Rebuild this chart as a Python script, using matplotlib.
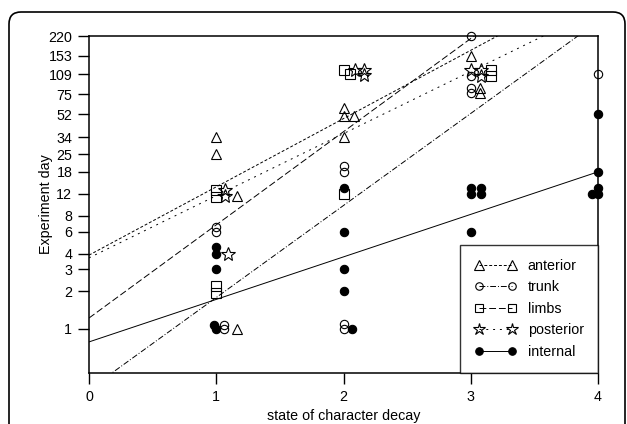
import numpy as np
import matplotlib
matplotlib.use("Agg")
import matplotlib.pyplot as plt
from matplotlib.patches import FancyBboxPatch
from matplotlib.transforms import IdentityTransform

plt.rcParams["font.family"] = ["Liberation Sans", "DejaVu Sans"]

# y ticks (experiment day, log scale)
day_ticks = [1, 2, 3, 4, 6, 8, 12, 18, 25, 34, 52, 75, 109, 153, 220]

# points per body region: decay state (with the small side offsets of the original) and day
ant_x = [1, 1, 1.16, 1.16, 2, 2, 2.08, 2, 3, 3.07, 3.07]
ant_y = [34, 25, 11.5, 1, 58, 50, 50, 34, 153, 85, 77]

trunk_x = [1, 1, 1.06, 1.06, 2, 2, 2, 2, 3, 3, 3, 3, 4]
trunk_y = [6.5, 6, 1.07, 1, 20, 18, 1.1, 1, 220, 105, 85, 77, 109]

limb_x = [1, 1, 1, 1, 2, 2.05, 2, 3.16, 3.16]
limb_y = [13, 11.3, 2.2, 1.95, 118, 109, 12, 118, 106]

post_x = [1.07, 1.07, 1.09, 2.09, 2.16, 2.16, 3, 3.08, 3.08]
post_y = [13, 11.5, 4, 118, 118, 107, 118, 118, 106]

int_x = [1, 1, 1, 0.98, 1.0, 2, 2, 2, 2, 2.07, 3, 3.08, 3, 3.08, 3, 4, 4, 4, 3.95, 4]
int_y = [4.5, 4, 3, 1.07, 1, 13.4, 6, 3, 2, 1, 13.4, 13.4, 12, 12, 6, 52, 18, 13.4, 12, 12]

# fitted lines: log10(day) = a + b * state
ant_fit = (0.59, 0.546)
trunk_fit = (-0.485, 0.736)
limb_fit = (0.087, 0.745)
post_fit = (0.568, 0.497)
int_fit = (-0.104, 0.34)

series = [
    ("anterior", ant_x, ant_y, ant_fit, "^", "none", (0, (3, 2))),
    ("trunk", trunk_x, trunk_y, trunk_fit, "o", "none", (0, (6, 2, 1, 2))),
    ("limbs", limb_x, limb_y, limb_fit, "s", "none", (0, (7, 3))),
    ("posterior", post_x, post_y, post_fit, "*", "none", (0, (2, 5))),
    ("internal", int_x, int_y, int_fit, "o", "black", "-"),
]
msizes = {"^": 7.5, "o": 6, "s": 6.5, "*": 10}

fig = plt.figure(figsize=(6.27, 4.24), dpi=100)
ax = fig.add_axes([89 / 627, 51 / 424, 509 / 627, 337 / 424])

xs = np.linspace(0, 4, 200)
for name, x, y, (a, b), m, fc, ls in series:
    ax.plot(xs, 10 ** (a + b * xs), color="black", lw=0.7, ls=ls)
    ax.plot(x, y, ls="none", marker=m, ms=msizes[m], mfc=fc, mec="black",
            mew=0.8, clip_on=False, zorder=3)
    # legend proxy
    ax.plot([], [], color="black", lw=0.7, ls=ls, marker=m, ms=msizes[m] * 0.9,
            mfc=fc, mec="black", mew=0.8, label=name)

ax.set_yscale("log")
ax.set_xlim(0, 4)
ax.set_ylim(0.444, 220)
ax.set_yticks(day_ticks)
ax.set_yticklabels([str(t) for t in day_ticks])
ax.yaxis.set_minor_locator(matplotlib.ticker.NullLocator())
ax.set_xticks([0, 1, 2, 3, 4])
ax.tick_params(direction="out", length=8, width=1, labelsize=10.3, pad=4)
for sp in ax.spines.values():
    sp.set_linewidth(1.1)
ax.set_xlabel("state of character decay", fontsize=10.3, labelpad=4)
ax.set_ylabel("Experiment day", fontsize=10.3, labelpad=-3)

handles, labels = ax.get_legend_handles_labels()
leg = ax.legend(handles, labels, loc="lower right", numpoints=2,
                fontsize=10.3, frameon=True, fancybox=False, borderaxespad=0,
                handlelength=2.9, labelspacing=0.52, borderpad=1.0,
                handletextpad=0.8)
leg.get_frame().set_edgecolor("black")
leg.get_frame().set_linewidth(1.0)

# rounded outer frame
frame = FancyBboxPatch((9, -30), 616, 442, boxstyle="round,pad=0,rounding_size=12",
                       transform=IdentityTransform(), fill=False, ec="black", lw=1.2)
fig.patches.append(frame)

fig.savefig("out.png", dpi=100)
